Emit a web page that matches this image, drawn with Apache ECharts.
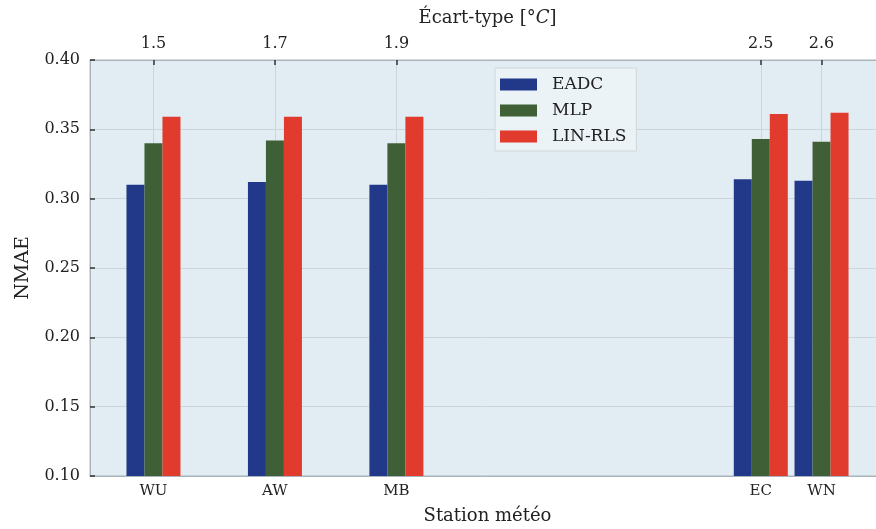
<!DOCTYPE html>
<html>
<head>
<meta charset="utf-8">
<script src="https://cdn.jsdelivr.net/npm/echarts@6/dist/echarts.min.js"></script>
<style>
  html, body { margin: 0; padding: 0; background: #ffffff; }
  #chart { width: 876px; height: 529px; }
</style>
</head>
<body>
<div id="chart"></div>
<script>
// Weather stations and their temperature standard deviation (°C)
const stations = ['WU', 'AW', 'MB', 'EC', 'WN'];
const ecartType = [1.5, 1.7, 1.9, 2.5, 2.6];

// NMAE per model and station
const eadc   = [0.310, 0.312, 0.310, 0.314, 0.313];
const mlp    = [0.340, 0.342, 0.340, 0.343, 0.341];
const linRls = [0.359, 0.359, 0.359, 0.361, 0.362];

const seriesNames = ['EADC', 'MLP', 'LIN-RLS'];
const seriesColors = ['#22398a', '#3f5f37', '#e03b2c'];

const FONT = 'DejaVu Serif';
const X_MIN = 1.3955, X_MAX = 2.7045;

function stationFor(v) {
  const i = ecartType.findIndex(x => Math.abs(x - v) < 1e-6);
  return i >= 0 ? stations[i] : '';
}

const chart = echarts.init(document.getElementById('chart'), null, { renderer: 'canvas' });

const pairs = arr => ecartType.map((x, i) => [x, arr[i]]);

chart.setOption({
  animation: false,
  backgroundColor: '#ffffff',
  textStyle: { fontFamily: FONT },
  grid: {
    left: 90, top: 60, width: 795, height: 416,
    outerBoundsMode: 'none',
    containLabel: false,
    show: true,
    backgroundColor: '#e2edf3',
    borderColor: '#aab4ba',
    borderWidth: 1
  },
  legend: {
    orient: 'vertical',
    left: 495, top: 68,
    icon: 'rect',
    itemWidth: 37, itemHeight: 12, itemGap: 9,
    padding: [8, 10, 6, 5],
    backgroundColor: 'rgba(236,243,247,0.9)',
    borderColor: '#cfd6db', borderWidth: 1,
    textStyle: { fontFamily: FONT, fontSize: 17, color: '#222', padding: [0, 0, 0, 10] },
    data: seriesNames
  },
  xAxis: [
    {
      type: 'value', position: 'bottom',
      min: X_MIN, max: X_MAX,
      name: 'Station météo', nameLocation: 'middle', nameGap: 31,
      nameTextStyle: { fontFamily: FONT, fontSize: 18, color: '#222' },
      axisLine: { show: true, lineStyle: { color: '#aab4ba' } },
      axisTick: { show: false, customValues: ecartType },
      axisLabel: {
        customValues: ecartType, margin: 8,
        fontFamily: FONT, fontSize: 15, color: '#222',
        formatter: v => stationFor(v)
      },
      splitLine: { show: true, lineStyle: { color: '#cbd5db', width: 1 } }
    },
    {
      type: 'value', position: 'top',
      min: X_MIN, max: X_MAX,
      name: 'Écart-type [°{i|C}]', nameLocation: 'middle', nameGap: 33,
      nameTextStyle: {
        fontFamily: FONT, fontSize: 18, color: '#222',
        rich: { i: { fontFamily: FONT, fontSize: 18, fontStyle: 'italic', color: '#222' } }
      },
      axisLine: { show: true, lineStyle: { color: '#aab4ba' } },
      axisTick: { show: true, inside: true, length: 5, customValues: ecartType, lineStyle: { color: '#333', width: 1.5 } },
      axisLabel: {
        customValues: ecartType, margin: 8,
        fontFamily: FONT, fontSize: 16, color: '#222',
        formatter: v => v.toFixed(1)
      },
      splitLine: { show: false }
    }
  ],
  yAxis: {
    type: 'value', min: 0.10, max: 0.40, interval: 0.05,
    name: 'NMAE', nameLocation: 'middle', nameGap: 57, nameRotate: 90,
    nameTextStyle: { fontFamily: FONT, fontSize: 19, color: '#222' },
    axisLine: { show: true, lineStyle: { color: '#aab4ba' } },
    axisTick: { show: true, inside: true, length: 5, lineStyle: { color: '#333', width: 1.5 } },
    axisLabel: {
      margin: 10, fontFamily: FONT, fontSize: 16, color: '#222',
      formatter: v => v.toFixed(2)
    },
    splitLine: { show: true, lineStyle: { color: '#cbd5db', width: 1 } }
  },
  series: [eadc, mlp, linRls].map((arr, k) => ({
    name: seriesNames[k],
    type: 'bar',
    xAxisIndex: 0,
    data: pairs(arr),
    barWidth: 18,
    barGap: '0%',
    itemStyle: { color: seriesColors[k] }
  }))
});
</script>
</body>
</html>
